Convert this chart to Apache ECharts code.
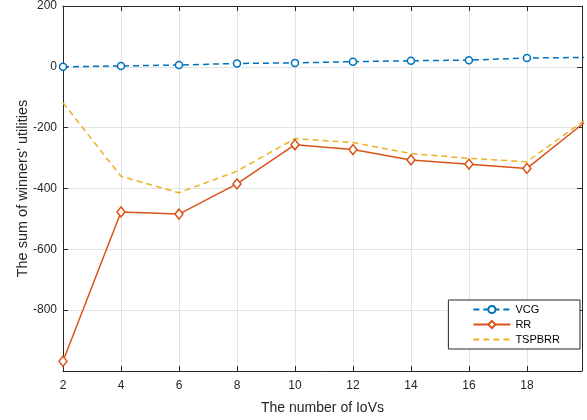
<!DOCTYPE html>
<html>
<head>
<meta charset="utf-8">
<script src="https://cdn.jsdelivr.net/npm/echarts@6/dist/echarts.min.js"></script>
<style>
  html, body { margin: 0; padding: 0; background: #fff; }
  #main { width: 587px; height: 420px; }
</style>
</head>
<body>
<div id="main"></div>
<script>
// data
const xVals = [2, 4, 6, 8, 10, 12, 14, 16, 18, 20];
const vcg = [0, 3, 6, 11, 13, 17, 20, 22, 29, 31];
const rr = [-968, -477, -484, -385, -256, -272, -306, -320, -334, -182];
const tspbrr = [-118, -360, -414, -343, -236, -249, -285, -301, -312, -175];

const xTicks = [2, 4, 6, 8, 10, 12, 14, 16, 18];
const yTicks = [-800, -600, -400, -200, 0, 200];

const font = 'Liberation Sans, Arial, Helvetica, sans-serif';
const axisCol = '#262626';

function pairs(ys) {
  return xVals.map((x, i) => [x, ys[i]]);
}

let chart = echarts.init(document.getElementById('main'));

let baseX = {
  type: 'value', min: 2, max: 19.9, interval: 2,
  axisLine: { show: true, onZero: false, lineStyle: { color: axisCol, width: 1 } },
  axisTick: { show: true, inside: true, length: 5, lineStyle: { color: axisCol } },
  splitLine: { show: false }
};
let baseY = {
  type: 'value', min: -1000, max: 200, interval: 200,
  axisLine: { show: true, onZero: false, lineStyle: { color: axisCol, width: 1 } },
  axisTick: { show: true, inside: true, length: 5, lineStyle: { color: axisCol } },
  splitLine: { show: false }
};

let option = {
  animation: false,
  textStyle: { fontFamily: font },
  grid: { left: 63, top: 6, right: 5, bottom: 46, containLabel: false },
  legend: {
    right: 7, top: 300,
    orient: 'vertical',
    itemWidth: 37, itemHeight: 9, itemGap: 4,
    padding: [4, 20, 4, 24],
    backgroundColor: '#fff',
    borderColor: axisCol, borderWidth: 1, borderRadius: 0,
    textStyle: { fontFamily: font, fontSize: 11, color: '#000' },
    data: ['VCG', 'RR', { name: 'TSPBRR', itemStyle: { opacity: 0 } }]
  },
  xAxis: [
    Object.assign({}, baseX, {
      position: 'bottom',
      name: 'The number of IoVs', nameLocation: 'middle', nameGap: 30,
      nameTextStyle: { fontFamily: font, fontSize: 14, color: '#262626' },
      splitLine: { show: true, lineStyle: { color: '#e3e3e3', width: 1 } },
      axisLabel: {
        fontFamily: font, fontSize: 12, color: '#262626', margin: 9,
        formatter: v => (xTicks.indexOf(v) >= 0 ? String(v) : '')
      }
    }),
    Object.assign({}, baseX, { position: 'top', axisLabel: { show: false } })
  ],
  yAxis: [
    Object.assign({}, baseY, {
      position: 'left',
      name: "The sum of winners' utilities", nameLocation: 'middle', nameGap: 33,
      nameMoveOverlap: false,
      nameTextStyle: { fontFamily: font, fontSize: 14.5, color: '#262626' },
      splitLine: { show: true, lineStyle: { color: '#e3e3e3', width: 1 } },
      axisLabel: {
        fontFamily: font, fontSize: 12, color: '#262626', margin: 6,
        formatter: v => (yTicks.indexOf(v) >= 0 ? String(v) : '')
      }
    }),
    Object.assign({}, baseY, { position: 'right', axisLabel: { show: false } })
  ],
  series: [
    {
      name: 'VCG', type: 'line', data: pairs(vcg), clip: true,
      symbol: 'circle', symbolSize: 7, showAllSymbol: true,
      itemStyle: { color: '#fff', borderColor: '#0072BD', borderWidth: 1.5 },
      lineStyle: { color: '#0072BD', width: 1.5, type: [6, 4] },
      color: '#0072BD', z: 4
    },
    {
      name: 'RR', type: 'line', data: pairs(rr), clip: true,
      symbol: 'diamond', symbolSize: [8, 10],
      itemStyle: { color: '#fff', borderColor: '#D95319', borderWidth: 1.5 },
      lineStyle: { color: '#D95319', width: 1.5 },
      color: '#D95319', z: 3
    },
    {
      name: 'TSPBRR', type: 'line', data: pairs(tspbrr), clip: true,
      symbol: 'none',
      lineStyle: { color: '#EDB120', width: 1.5, type: [6, 4] },
      itemStyle: { color: '#EDB120' },
      color: '#EDB120', z: 2
    }
  ]
};

chart.setOption(option);
</script>
</body>
</html>
